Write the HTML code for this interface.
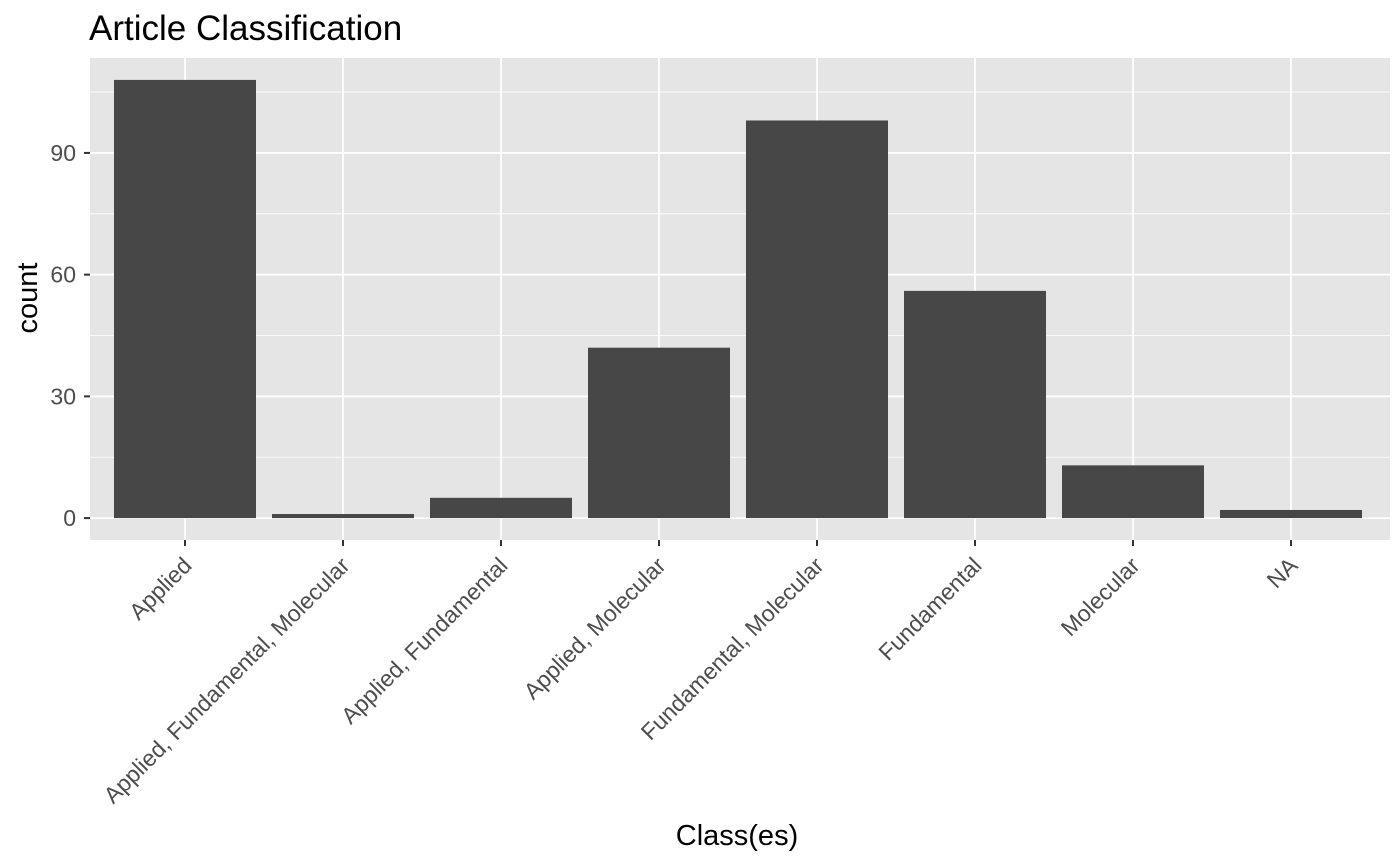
<!DOCTYPE html>
<html><head><meta charset="utf-8"><style>
html,body{margin:0;padding:0;background:#fff;}
svg{display:block;font-family:"Liberation Sans",Arial,sans-serif;}
</style></head><body>
<svg id="chart" width="1400" height="865">
<text x="89" y="40" font-size="35" fill="#000">Article Classification</text>
<rect x="90" y="58" width="1300" height="482" fill="#e5e5e5"/>
<g id="grid"></g>
<g id="bars"></g>
<g id="axes"></g>
<text x="0" y="0" font-size="29" fill="#000" text-anchor="middle" transform="translate(37,298) rotate(-90)">count</text>
<text x="737" y="845" font-size="29" fill="#000" text-anchor="middle">Class(es)</text>
</svg>
<script>
const categories = ["Applied","Applied, Fundamental, Molecular","Applied, Fundamental","Applied, Molecular","Fundamental, Molecular","Fundamental","Molecular","NA"];
const counts = [108,1,5,42,98,56,13,2];
const yTicks = [0,30,60,90];
const yMinor = [15,45,75,105];

const NS="http://www.w3.org/2000/svg";
const px0=90, px1=1390, py0=540, py1=58;
const yLo = -0.05*Math.max(...counts), yHi = Math.max(...counts)*1.05;
function y(v){return py0-(v-yLo)/(yHi-yLo)*(py0-py1);}
const step=158;
function x(i){return 185+step*i;}
function mk(tag,attrs,parent){const e=document.createElementNS(NS,tag);for(const k in attrs)e.setAttribute(k,attrs[k]);parent.appendChild(e);return e;}
const grid=document.getElementById('grid'),bars=document.getElementById('bars'),axes=document.getElementById('axes');
yMinor.forEach(v=>{const l=mk('line',{x1:px0,x2:px1,y1:y(v),y2:y(v),stroke:'#fff','stroke-width':0.8},grid);

});
yTicks.forEach(v=>{const l=mk('line',{x1:px0,x2:px1,y1:y(v),y2:y(v),stroke:'#fff','stroke-width':1.8},grid);


const t=mk('line',{x1:px0-6,x2:px0,y1:y(v),y2:y(v),stroke:'#333','stroke-width':2},axes);


const tx=mk('text',{x:px0-14,y:y(v)+8,'font-size':23,fill:'#4d4d4d','text-anchor':'end'},axes);tx.textContent=v;

});
categories.forEach((c,i)=>{const cx=x(i);
const g=mk('line',{x1:cx,x2:cx,y1:py1,y2:py0,stroke:'#fff','stroke-width':1.8},grid);


const w=142;
const b=mk('rect',{x:cx-w/2,y:y(counts[i]),width:w,height:y(0)-y(counts[i]),fill:'#474747'},bars);


const t=mk('line',{x1:cx,x2:cx,y1:py0,y2:py0+6,stroke:'#333','stroke-width':2},axes);


const tx=mk('text',{x:0,y:0,'font-size':23,fill:'#4d4d4d','text-anchor':'end',transform:`translate(${cx+8},${py0+27}) rotate(-45)`},axes);tx.textContent=c;

});
</script>
</body></html>
